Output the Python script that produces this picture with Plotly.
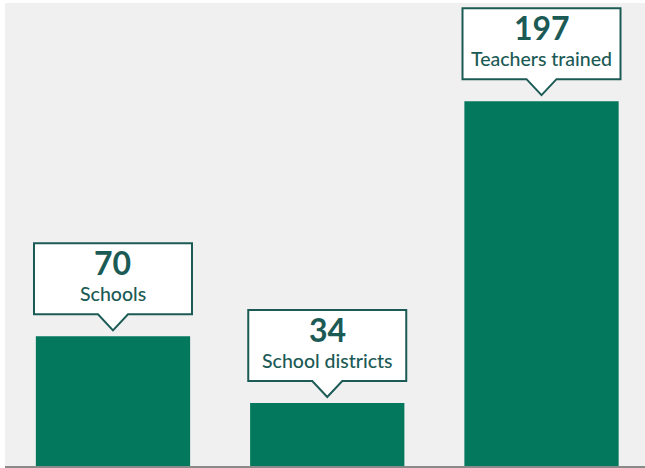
import plotly.graph_objects as go

categories = ["Schools", "School districts", "Teachers trained"]
values = [70, 34, 197]

BAR_COLOR = "#03785c"
TEXT_COLOR = "#1b5a55"

xs = list(range(len(categories)))

fig = go.Figure(go.Bar(x=xs, y=values, width=0.72, marker=dict(color=BAR_COLOR, line=dict(width=0)),
                       hoverinfo="skip"))

shapes = []
annotations = []
for x, v, cat in zip(xs, values, categories):
    shapes.append(dict(
        type="path", xref="x", yref="y", xsizemode="pixel", ysizemode="pixel",
        xanchor=x, yanchor=v,
        path="M -79,22 L -15,22 L 0,6 L 15,22 L 79,22 L 79,93 L -79,93 Z",
        fillcolor="white", line=dict(color=TEXT_COLOR, width=2), layer="above"))
    annotations.append(dict(x=x, y=v, xref="x", yref="y", text=f"<b>{v}</b>", showarrow=False,
                            yshift=74, yanchor="middle", xanchor="center",
                            font=dict(family="Lato", size=32, color=TEXT_COLOR, weight=900)))
    annotations.append(dict(x=x, y=v, xref="x", yref="y", text=cat, showarrow=False,
                            yshift=43, yanchor="middle", xanchor="center",
                            font=dict(family="Lato", size=19.5, color=TEXT_COLOR, weight=500)))

fig.update_layout(
    width=645, height=468,
    margin=dict(l=5, r=0, t=3, b=2),
    paper_bgcolor="white", plot_bgcolor="#f0f0f0",
    showlegend=False,
    shapes=shapes, annotations=annotations,
    xaxis=dict(range=[-0.504, 2.483], showticklabels=False, ticks="", showgrid=False, zeroline=False,
               showline=True, linecolor="#8a8a8a", linewidth=2, fixedrange=True),
    yaxis=dict(range=[0, 250], showticklabels=False, ticks="", showgrid=False, zeroline=False,
               showline=False, fixedrange=True),
)

fig.write_html("out.html", config={"displayModeBar": False})
